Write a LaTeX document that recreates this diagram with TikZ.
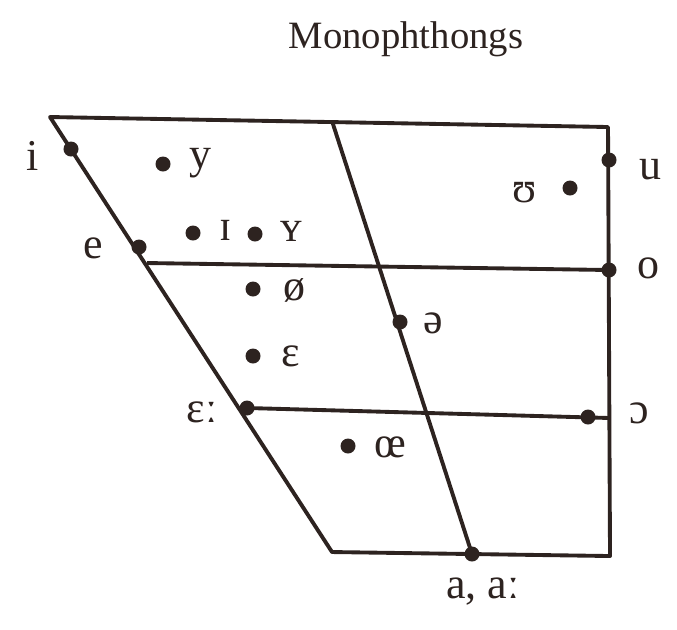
\documentclass[tikz,border=0pt]{standalone}
\usepackage{fontspec}
\setmainfont{Liberation Serif}
\usetikzlibrary{positioning}
\definecolor{inkdark}{RGB}{45,35,32}
\tikzset{
  vdot/.style={circle, fill=inkdark, inner sep=0pt, minimum size=0.15cm},
  vlab/.style={font=\fontsize{12.5}{14}\selectfont, text=inkdark, inner sep=0pt},
  chartline/.style={line width=1.1pt, color=inkdark, line join=round}
}

\begin{document}
\begin{tikzpicture}[x=0.01cm, y=-0.01cm]
  \useasboundingbox (0,0) rectangle (677,629);
  % chart corners
  \coordinate (tl) at (50,117);
  \coordinate (tr) at (608,127);
  \coordinate (br) at (610,556);
  \coordinate (bl) at (332,552);
  \coordinate (tm) at (332,121);
  \coordinate (midl) at (147,263);
  \coordinate (midr) at (609,270);
  \coordinate (lowl) at (248,408);
  \coordinate (lowr) at (610,418);
  % outline and grid
  \draw[chartline] (tl) -- (tr) -- (br) -- (bl) -- cycle;
  \draw[chartline] (midl) -- (midr);
  \draw[chartline] (lowl) -- (lowr);
  % vowel points
  \node[vdot] (i)    at (71,149) {};
  \node[vdot] (y)    at (163,164) {};
  \node[vdot] (ih)   at (193,233) {};
  \node[vdot] (yh)   at (255,234) {};
  \node[vdot] (e)    at (139,247) {};
  \node[vdot] (oe)   at (253,289) {};
  \node[vdot] (eps)  at (253,356) {};
  \node[vdot] (epsl) at (247,408) {};
  \node[vdot] (oel)  at (348,446) {};
  \node[vdot] (schwa) at (400,322) {};
  \node[vdot] (u)    at (609,160) {};
  \node[vdot] (uh)   at (570,188) {};
  \node[vdot] (o)    at (609,270) {};
  \node[vdot] (oo)   at (588,417) {};
  \node[vdot] (a)    at (472,554) {};
  \draw[chartline] (tm) -- (a.center);
  % labels
  \node[vlab] (ilab)    at (33,156)  {i};
  \node[vlab] (ylab)    at (200,163) {y};
  \node[vlab] (ihlab)   at (226,230) {ɪ};
  \node[vlab] (yhlab)   at (291,231) {ʏ};
  \node[vlab] (elab)    at (93,248)  {e};
  \node[vlab] (oelab)   at (294,290) {ø};
  \node[vlab] (epslab)  at (291,356) {ɛ};
  \node[vlab] (epsllab) at (202,412) {ɛː};
  \node[vlab] (oellab)  at (390,447) {œ};
  \node[vlab] (schwalab) at (433,323) {ə};
  \node[vlab] (ulab)    at (650,170) {u};
  \node[vlab] (uhlab)   at (525,193) {ʊ};
  \node[vlab] (olab)    at (648,268) {o};
  \node[vlab] (oolab)   at (639,413) {ɔ};
  \node[vlab] (alab)    at (483,592) {a, aː};
  \node[font=\fontsize{11}{13}\selectfont, text=inkdark, inner sep=0pt] (title) at (406,39) {Monophthongs};
\end{tikzpicture}
\end{document}
